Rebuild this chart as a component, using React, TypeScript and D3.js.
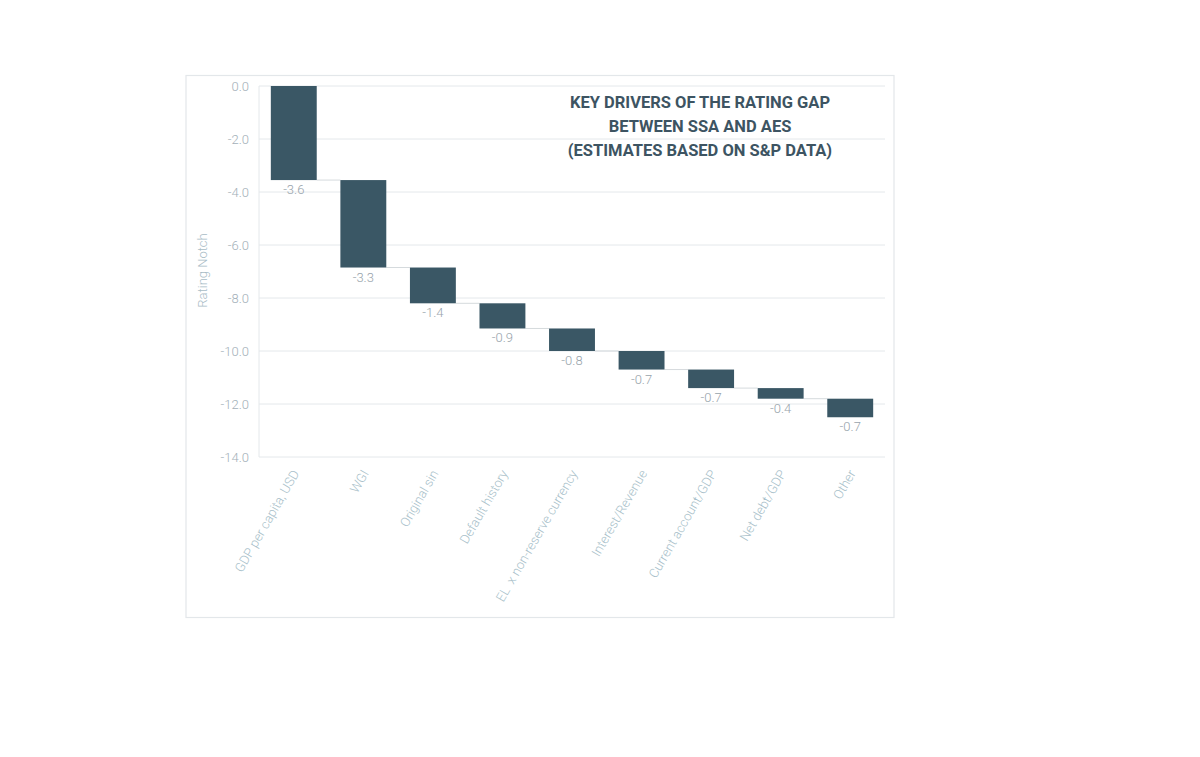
import { useEffect, useRef } from "react";
import * as d3 from "d3";

const categories = [
  "GDP per capita, USD",
  "WGI",
  "Original sin",
  "Default history",
  "EL  x non-reserve currency",
  "Interest/Revenue",
  "Current account/GDP",
  "Net debt/GDP",
  "Other",
];
const deltas = [-3.55, -3.3, -1.35, -0.95, -0.85, -0.7, -0.7, -0.4, -0.7];
const deltaLabels = ["-3.6", "-3.3", "-1.4", "-0.9", "-0.8", "-0.7", "-0.7", "-0.4", "-0.7"];
const yTicks = [0, -2, -4, -6, -8, -10, -12, -14];
const titleLines = [
  "KEY DRIVERS OF THE RATING GAP",
  "BETWEEN SSA AND AES",
  "(ESTIMATES BASED ON S&P DATA)",
];

const W = 1200;
const H = 757;
const FONT = "Roboto, 'Open Sans', sans-serif";

export default function App() {
  const svgRef = useRef<SVGSVGElement>(null);

  useEffect(() => {
    if (!svgRef.current) return;
    const svg = d3.select(svgRef.current);
    svg.selectAll("*").remove();

    const plot = { left: 259, right: 885, top: 86, bottom: 457 };

    // card
    svg
      .append("rect")
      .attr("x", 186)
      .attr("y", 75.5)
      .attr("width", 708)
      .attr("height", 542)
      .attr("fill", "#fff")
      .attr("stroke", "#e3e7ea")
      .attr("stroke-width", 1.2);

    const x = d3
      .scaleBand<string>()
      .domain(categories)
      .range([plot.left, plot.right])
      .paddingInner(0.34)
      .paddingOuter(0.17);

    const y = d3.scaleLinear().domain([0, -14]).range([plot.top, plot.bottom]);

    // cumulative steps
    let run = 0;
    const steps = deltas.map((d, i) => {
      const start = run;
      run += d;
      return { cat: categories[i], start, end: run, label: deltaLabels[i] };
    });

    // grid
    svg
      .append("g")
      .selectAll("line")
      .data(yTicks)
      .join("line")
      .attr("x1", plot.left)
      .attr("x2", plot.right)
      .attr("y1", (d) => y(d))
      .attr("y2", (d) => y(d))
      .attr("stroke", "#e4e8eb")
      .attr("stroke-width", 1);

    // left axis line
    svg
      .append("line")
      .attr("x1", plot.left)
      .attr("x2", plot.left)
      .attr("y1", plot.top)
      .attr("y2", plot.bottom)
      .attr("stroke", "#e4e8eb");

    // y tick labels
    svg
      .append("g")
      .selectAll("text")
      .data(yTicks)
      .join("text")
      .attr("x", 249)
      .attr("y", (d) => y(d))
      .attr("dy", "0.35em")
      .attr("text-anchor", "end")
      .attr("font-family", FONT)
      .attr("font-weight", 300)
      .attr("font-size", 13)
      .attr("fill", "#a3b0b9")
      .text((d) => d3.format(".1f")(d).replace("−", "-"));

    // y axis title
    svg
      .append("text")
      .attr("transform", `translate(207,${(plot.top + plot.bottom) / 2 - 1}) rotate(-90)`)
      .attr("text-anchor", "middle")
      .attr("font-family", FONT)
      .attr("font-weight", 300)
      .attr("font-size", 13)
      .attr("fill", "#a9bcc6")
      .text("Rating Notch");

    // connectors
    svg
      .append("g")
      .selectAll("line")
      .data(steps.slice(0, -1))
      .join("line")
      .attr("x1", (d) => x(d.cat)! + x.bandwidth())
      .attr("x2", (_, i) => x(categories[i + 1])!)
      .attr("y1", (d) => y(d.end))
      .attr("y2", (d) => y(d.end))
      .attr("stroke", "#d5dadd")
      .attr("stroke-width", 1);

    // bars
    svg
      .append("g")
      .selectAll("rect")
      .data(steps)
      .join("rect")
      .attr("x", (d) => x(d.cat)!)
      .attr("width", x.bandwidth())
      .attr("y", (d) => y(d.start))
      .attr("height", (d) => y(d.end) - y(d.start))
      .attr("fill", "#3a5765");

    // value labels
    svg
      .append("g")
      .selectAll("text")
      .data(steps)
      .join("text")
      .attr("x", (d) => x(d.cat)! + x.bandwidth() / 2)
      .attr("y", (d) => y(d.end) + 14)
      .attr("text-anchor", "middle")
      .attr("font-family", FONT)
      .attr("font-weight", 300)
      .attr("font-size", 13)
      .attr("fill", "#97a3ab")
      .text((d) => d.label);

    // x labels
    svg
      .append("g")
      .selectAll("text")
      .data(categories)
      .join("text")
      .attr(
        "transform",
        (d) => `translate(${x(d)! + x.bandwidth() / 2 + 2},${plot.bottom + 14}) rotate(-60)`
      )
      .attr("text-anchor", "end")
      .attr("dy", "0.35em")
      .attr("font-family", FONT)
      .attr("font-weight", 300)
      .attr("font-size", 13)
      .attr("fill", "#a9bfca")
      .style("white-space", "pre")
      .text((d) => d);

    // title
    svg
      .append("g")
      .selectAll("text")
      .data(titleLines)
      .join("text")
      .attr("x", 700)
      .attr("y", (_, i) => 108 + i * 24)
      .attr("text-anchor", "middle")
      .attr("font-family", FONT)
      .attr("font-weight", 700)
      .attr("font-size", 16.5)
      .attr("fill", "#3d5462")
      .text((d) => d);
  }, []);

  return (
    <svg
      ref={svgRef}
      width={W}
      height={H}
      style={{ position: "absolute", left: 0, top: 0, background: "#fff" }}
    />
  );
}
